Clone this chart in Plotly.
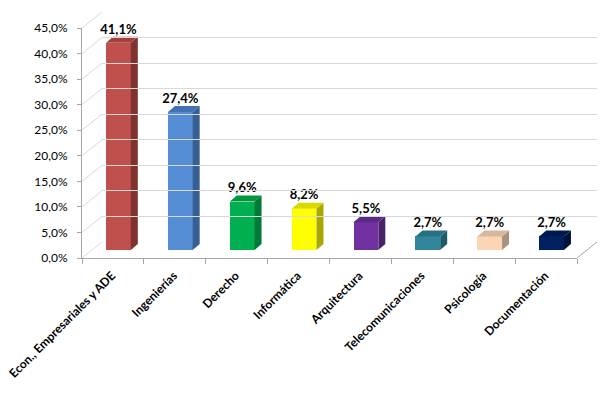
import plotly.graph_objects as go

categories = ["Econ., Empresariales y ADE", "Ingenierías", "Derecho", "Informática",
              "Arquitectura", "Telecomunicaciones", "Psicología", "Documentación"]
values = [41.1, 27.4, 9.6, 8.2, 5.5, 2.7, 2.7, 2.7]
front_colors = ["#C0504D", "#558ED5", "#00B050", "#FFFF00", "#7030A0", "#31859C", "#FCD5B5", "#002060"]
top_colors = ["#A2403D", "#4272B4", "#00973F", "#D9D900", "#5E2888", "#296F83", "#D8B89C", "#001A50"]
side_colors = ["#7F3230", "#375F92", "#007A38", "#A8A800", "#4A2068", "#215A6A", "#A99180", "#001238"]
y_ticks = [0, 5, 10, 15, 20, 25, 30, 35, 40, 45]
y_tick_labels = [f"{t:.1f}%".replace(".", ",") for t in y_ticks]

# page has default 8px body margin -> figure drawn at (8,8)
W, H = 597, 388
L, R, T, B = 74, 8, 4, 138
pw, ph = W - L - R, H - T - B          # 515 x 246
front_w, front_h = 495, 230             # front plane size in px
back_dx, back_dy = 20, 16               # back wall offset px
cat_px = front_w / len(categories)
ypx = front_h / 45.0

# bar plane (mid-depth) axes
bar_shift_px = 5.5
bar_base_px = 8
bar_scale = 5.04
x2_range = [-0.5 - bar_shift_px / cat_px, 7.5 - bar_shift_px / cat_px]
y2_range = [-bar_base_px / bar_scale, (front_h - bar_base_px) / bar_scale]
bw = 0.40
ddx = 7 / cat_px
ddy = 6 / bar_scale

fig = go.Figure()

# back wall grid subplot (x3, y3)
fig.add_trace(go.Scatter(x=[0, 1], y=[None, None], xaxis="x3", yaxis="y3",
                         showlegend=False, hoverinfo="skip"))

# connectors from front axis to back wall (union axis x4,y4 in front units)
x4_range = [-0.5, -0.5 + pw / cat_px]
y4_range = [0, ph / ypx]
cx, cy = [], []
for t in y_ticks:
    cx += [-0.5, -0.5 + back_dx / cat_px, None]
    cy += [t, t + back_dy / ypx, None]
fig.add_trace(go.Scatter(x=cx, y=cy, mode="lines", xaxis="x4", yaxis="y4",
                         line=dict(color="#D9D9D9", width=1), showlegend=False, hoverinfo="skip"))
fig.add_trace(go.Scatter(x=[7.5, 7.5 + back_dx / cat_px], y=[0, back_dy / ypx], mode="lines",
                         xaxis="x4", yaxis="y4", line=dict(color="#A6A6A6", width=1),
                         showlegend=False, hoverinfo="skip"))

# front axis subplot (x, y) placeholder
fig.add_trace(go.Scatter(x=[0], y=[None], xaxis="x", yaxis="y", showlegend=False, hoverinfo="skip"))

# bars on x2/y2
xs = list(range(len(categories)))
fig.add_trace(go.Bar(x=xs, y=values, width=bw, xaxis="x2", yaxis="y2",
                     marker=dict(color=front_colors, line=dict(width=0)),
                     showlegend=False, hoverinfo="skip"))
for i, v in enumerate(values):
    xl, xr = i - bw / 2, i + bw / 2
    # side face
    fig.add_trace(go.Scatter(x=[xr, xr + ddx, xr + ddx, xr, xr], y=[0, ddy, v + ddy, v, 0],
                             mode="lines", fill="toself", fillcolor=side_colors[i],
                             line=dict(width=0, color=side_colors[i]), xaxis="x2", yaxis="y2",
                             showlegend=False, hoverinfo="skip"))
    # top face
    fig.add_trace(go.Scatter(x=[xl, xl + ddx, xr + ddx, xr, xl], y=[v, v + ddy, v + ddy, v, v],
                             mode="lines", fill="toself", fillcolor=top_colors[i],
                             line=dict(width=0, color=top_colors[i]), xaxis="x2", yaxis="y2",
                             showlegend=False, hoverinfo="skip"))

labels = [f"{v:.1f}%".replace(".", ",") for v in values]
fig.add_trace(go.Scatter(x=xs, y=[v + ddy for v in values], mode="text",
                         text=labels, textposition="top center",
                         textfont=dict(family="Lato", size=13, color="#000000"),
                         texttemplate="<b>%{text}</b>",
                         xaxis="x2", yaxis="y2", showlegend=False, hoverinfo="skip", cliponaxis=False))

fdx = front_w / pw
fdy = front_h / ph
fig.update_layout(
    width=W, height=H,
    margin=dict(l=L, r=R, t=T, b=B),
    paper_bgcolor="white", plot_bgcolor="rgba(0,0,0,0)",
    font=dict(family="Lato", size=12, color="#000000"),
    xaxis=dict(domain=[0, fdx], range=[-0.5, 7.5], tickmode="array", tickvals=xs,
               ticktext=[f"<b>{c}</b>" for c in categories], tickangle=-45, ticks="",
               showgrid=False, zeroline=False, showline=True, linecolor="#A6A6A6",
               tickfont=dict(family="Lato", size=12), automargin=False, ticklabelstandoff=5,
               ticklabelshift=-1, ticklabeloverflow="allow",
               minor=dict(tickvals=[i - 0.5 for i in range(len(categories) + 1)], ticks="outside",
                          ticklen=5, tickcolor="#A6A6A6", showgrid=False),
               anchor="y", fixedrange=True),
    yaxis=dict(domain=[0, fdy], range=[0, 45], tickmode="array", tickvals=y_ticks,
               ticktext=y_tick_labels, ticks="outside", ticklen=4, tickcolor="#A6A6A6",
               showgrid=False, zeroline=False, showline=True, linecolor="#A6A6A6",
               tickfont=dict(family="Lato", size=12), anchor="x", fixedrange=True,
               automargin=False, ticklabelstandoff=7, ticklabeloverflow="allow"),
    xaxis2=dict(domain=[0, fdx], range=x2_range, visible=False, overlaying="x", anchor="y2",
                automargin=False),
    yaxis2=dict(domain=[0, fdy], range=y2_range, visible=False, overlaying="y", anchor="x2",
                automargin=False),
    xaxis3=dict(domain=[back_dx / pw, 1], range=[0, 1], visible=False, anchor="y3", automargin=False),
    yaxis3=dict(domain=[back_dy / ph, 1], range=[0, 45], tickvals=y_ticks, showgrid=True,
                gridcolor="#D9D9D9", gridwidth=1, showticklabels=False, ticks="",
                zeroline=False, showline=False, anchor="x3", automargin=False),
    xaxis4=dict(domain=[0, 1], range=x4_range, visible=False, anchor="y4", automargin=False),
    yaxis4=dict(domain=[0, 1], range=y4_range, visible=False, anchor="x4", automargin=False),
    bargap=0,
)

fig.write_html("out.html")
